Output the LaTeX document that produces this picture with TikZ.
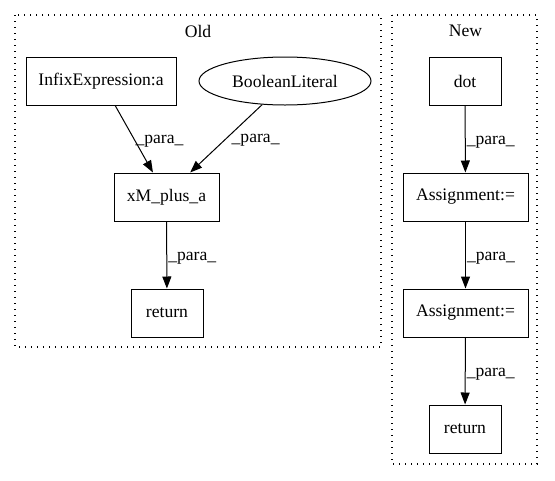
\documentclass[tikz,border=0pt]{standalone}
\usepackage{fontspec}
\setmainfont{Liberation Serif}
\usetikzlibrary{arrows.meta,positioning,shapes.geometric}
\begin{document}
\begin{tikzpicture}[x=1pt,y=-1pt,font=\fontsize{17.6}{20}\selectfont,
  box/.style={draw,line width=1pt,minimum height=48pt,inner sep=0pt},
  oval/.style={draw,ellipse,line width=1pt,minimum height=48pt,minimum width=172pt,inner sep=0pt},
  cluster/.style={draw,line width=1.2pt,dash pattern=on 1.2pt off 4.8pt},
  flow/.style={-{Triangle[length=12pt,width=9pt]},line width=1pt},
  lbl/.style={right,inner sep=1pt,yshift=-3pt},
]
\useasboundingbox (0,0) rectangle (555,480);
% clusters
\draw[cluster] (15,15) rectangle (381,347);
\draw[cluster] (392,15) rectangle (537,464);
\node (oldtitle) at (198,31) {Old};
\node (newtitle) at (465.5,31) {New};

% old graph
\node[box,minimum width=150pt] (infix) at (101,81) {InfixExpression:a};
\node[oval] (bool) at (285,81) {BooleanLiteral};
\node[box,minimum width=105pt] (xm) at (166.5,197) {xM\_plus\_a};
\node[box,minimum width=72pt] (oldret) at (167,313) {return};
\draw[flow] (infix.-60) -- node[lbl,yshift=1pt] (l1) {\_para\_} (xm.119);
\draw[flow] (bool.-134) -- node[lbl,xshift=4pt,yshift=1pt] (l2) {\_para\_} (xm.46);
\draw[flow] (xm) -- node[lbl] (l3) {\_para\_} (oldret);

% new graph
\node[box,minimum width=72pt] (dot) at (465,81) {dot};
\node[box,minimum width=125pt] (asgA) at (465.5,197) {Assignment:=};
\node[box,minimum width=125pt] (asgB) at (465.5,313) {Assignment:=};
\node[box,minimum width=72pt] (newret) at (465,429) {return};
\draw[flow] (dot) -- node[lbl] (l4) {\_para\_} (asgA);
\draw[flow] (asgA) -- node[lbl] (l5) {\_para\_} (asgB);
\draw[flow] (asgB) -- node[lbl] (l6) {\_para\_} (newret);
\end{tikzpicture}
\end{document}
